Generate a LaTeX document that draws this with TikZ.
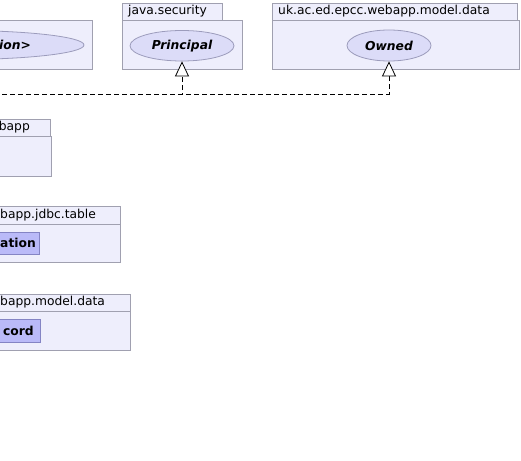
\documentclass[tikz,border=0pt]{standalone}
\usepackage{fontspec}
\setmainfont{DejaVu Sans}
\usetikzlibrary{shapes.geometric,arrows.meta}
\definecolor{pkgline}{HTML}{A0A0B0}
\definecolor{pkgfill}{HTML}{EEEEFC}
\definecolor{ellfill}{HTML}{DCDCF8}
\definecolor{ellline}{HTML}{9C9CBC}
\definecolor{clsfill}{HTML}{BABAF8}
\definecolor{clsline}{HTML}{8484C4}
\tikzset{
  pkgbox/.style={draw=pkgline, fill=pkgfill, line width=0.8pt},
  pkgname/.style={font=\fontsize{12.3}{14}\selectfont, inner sep=0pt},
  ifacefont/.style={font=\fontsize{12.3}{14}\selectfont\bfseries\itshape},
  iface/.style={ellipse, draw=ellline, fill=ellfill, line width=0.8pt, inner sep=0pt, ifacefont},
  clsbox/.style={draw=clsline, fill=clsfill, line width=0.8pt},
  clsname/.style={font=\fontsize{12.3}{14}\selectfont\bfseries, inner sep=0pt},
  realize/.style={draw=black, line width=0.8pt, dash pattern=on 5pt off 3pt,
    -{Triangle[fill=white, length=15pt, width=14pt, line width=0.8pt, sep=0pt]}},
}
\begin{document}
\begin{tikzpicture}[x=1pt,y=-1pt]
\clip (0,0) rectangle (521,460);
\fill[white] (0,0) rectangle (521,460);

% package 1 (clipped)
\draw[pkgbox] (-200,3) rectangle (-120,20);
\draw[pkgbox] (-200,20) rectangle (92,69);
\node[iface, minimum width=248pt, minimum height=29pt] (gen) at (-40,45) {};
\node[ifacefont, inner sep=0pt, anchor=west] (gentext) at (-1,45) {ion>};

% package 2 java.security
\node[pkgbox, anchor=north west, minimum width=100pt, minimum height=17pt, inner sep=0pt] (p2tab) at (122,3) {};
\node[pkgname, anchor=west] (p2name) at (128,11.5) {java.security};
\node[pkgbox, anchor=north west, minimum width=120pt, minimum height=49pt, inner sep=0pt] (p2body) at (122,20) {};
\node[iface, minimum width=104pt, minimum height=30.5pt] (principal) at (182,45.75) {Principal};

% package 3 uk.ac.ed.epcc.webapp.model.data
\node[pkgbox, anchor=north west, minimum width=245pt, minimum height=17pt, inner sep=0pt] (p3tab) at (272,3) {};
\node[pkgname, anchor=west] (p3name) at (278,11.5) {uk.ac.ed.epcc.webapp.model.data};
\node[pkgbox, anchor=north west, minimum width=247pt, minimum height=49pt, inner sep=0pt] (p3body) at (272,20) {};
\node[iface, minimum width=84pt, minimum height=31pt] (owned) at (389,45.5) {Owned};

% package 4
\draw[pkgbox] (-100,119.5) rectangle (50.7,136);
\draw[pkgbox] (-100,136) rectangle (51.7,176);
\node[pkgname, anchor=east] (p4name) at (30,127.5) {bapp};

% package 5
\draw[pkgbox] (-100,206) rectangle (120,224);
\draw[pkgbox] (-100,224) rectangle (120,262.7);
\node[pkgname, anchor=west] (p5name) at (0,215) {bapp.jdbc.table};
\draw[clsbox] (-100,232.3) rectangle (39.3,254.5);
\node[clsname, anchor=west] (c5) at (0,243.4) {ation};

% package 6
\draw[pkgbox] (-100,294) rectangle (130,311.5);
\draw[pkgbox] (-100,311.5) rectangle (130,350);
\node[pkgname, anchor=west] (p6name) at (0,302.5) {bapp.model.data};
\draw[clsbox] (-100,319.5) rectangle (40.7,342.5);
\node[clsname, anchor=east] (c6) at (34,331) {cord};

% realization connectors
\coordinate (src) at (-30,94);
\draw[realize] (src) -- (182,94) -- (principal.south);
\draw[realize] (src) -- (389,94) -- (owned.south);
\end{tikzpicture}
\end{document}
